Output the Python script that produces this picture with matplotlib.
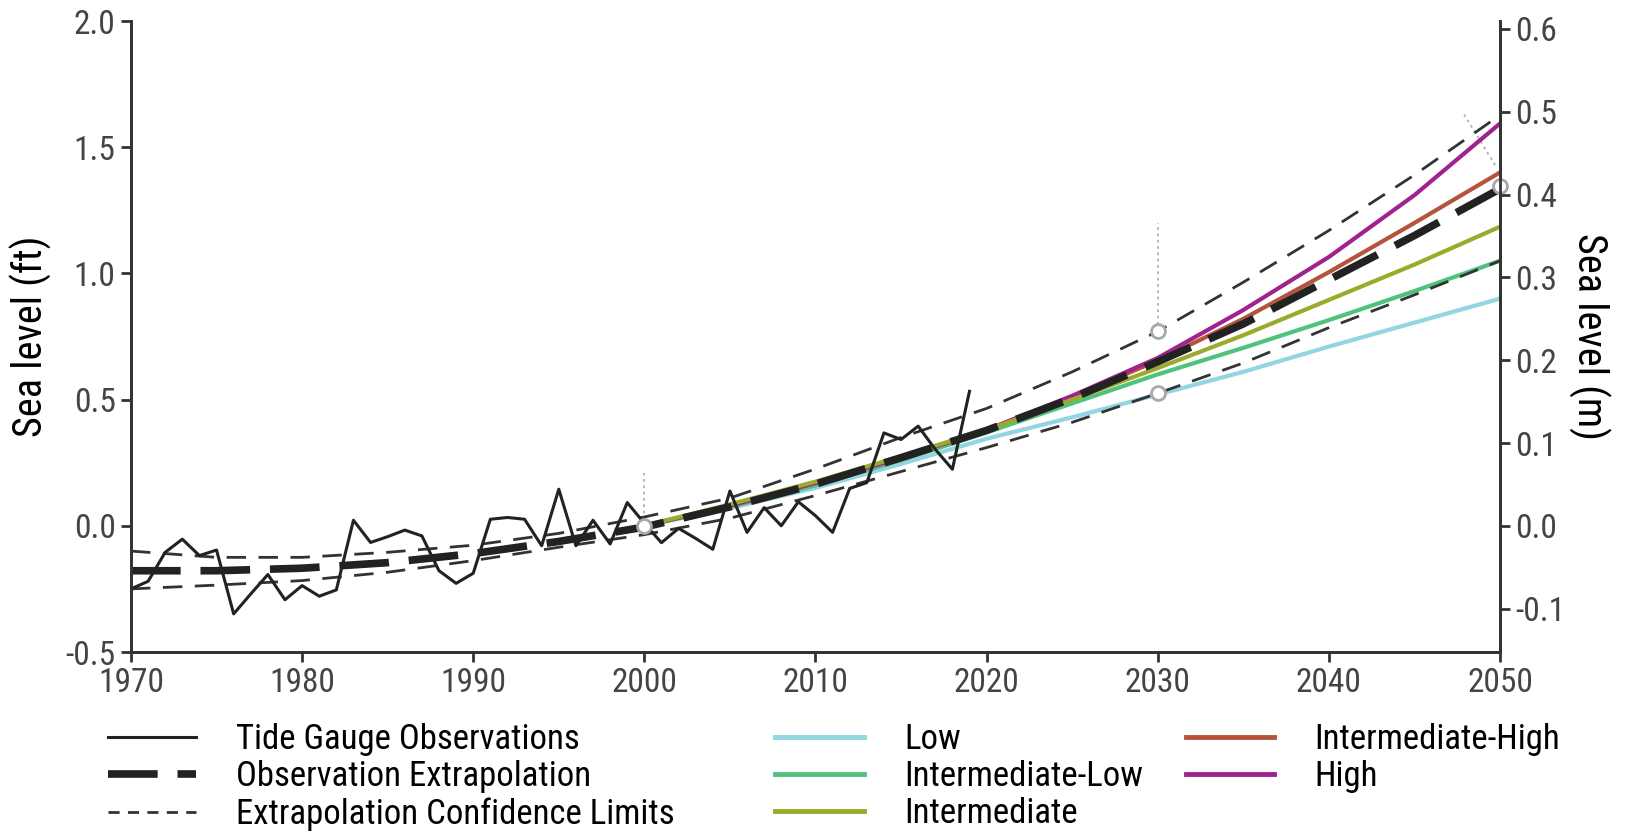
import matplotlib
matplotlib.use("Agg")
import matplotlib.pyplot as plt
from matplotlib.lines import Line2D

plt.rcParams['font.family'] = ['Roboto Condensed', 'Roboto', 'DejaVu Sans']

# Tide gauge observations (ft), annual
obs_years = list(range(1970, 2020))
obs_vals = [-0.25, -0.22, -0.105, -0.053, -0.118, -0.096, -0.349, -0.27, -0.193, -0.293,
            -0.237, -0.279, -0.254, 0.022, -0.066, -0.043, -0.017, -0.04, -0.178, -0.228,
            -0.188, 0.026, 0.033, 0.026, -0.079, 0.145, -0.079, 0.022, -0.072, 0.092,
            0.01, -0.067, -0.01, -0.05, -0.093, 0.138, -0.026, 0.072, 0.0, 0.095,
            0.04, -0.026, 0.148, 0.171, 0.368, 0.342, 0.395, 0.303, 0.224, 0.533]

# Extrapolation and its confidence limits (ft), every 5 years
ext_years = [1970, 1975, 1980, 1985, 1990, 1995, 2000, 2005, 2010, 2015, 2020, 2025, 2030, 2035, 2040, 2045, 2050]
ext_vals = [-0.178, -0.178, -0.168, -0.146, -0.11, -0.062, -0.005, 0.075, 0.165, 0.27, 0.378, 0.505, 0.65, 0.8, 0.975, 1.15, 1.335]
ci_upper = [-0.10, -0.125, -0.125, -0.105, -0.077, -0.03, 0.035, 0.11, 0.225, 0.35, 0.465, 0.61, 0.77, 0.965, 1.17, 1.39, 1.627]
ci_lower = [-0.25, -0.235, -0.217, -0.184, -0.138, -0.085, -0.035, 0.03, 0.12, 0.215, 0.31, 0.41, 0.525, 0.645, 0.785, 0.915, 1.05]

# Scenario projections (ft)
scen_years = [2000, 2005, 2010, 2015, 2020, 2025, 2030, 2035, 2040, 2045, 2050]
scen_low = [0.0, 0.07, 0.15, 0.245, 0.345, 0.43, 0.52, 0.61, 0.71, 0.805, 0.90]
scen_int_low = [0.0, 0.075, 0.16, 0.26, 0.37, 0.485, 0.60, 0.705, 0.815, 0.93, 1.05]
scen_int = [0.0, 0.085, 0.175, 0.275, 0.38, 0.50, 0.625, 0.755, 0.895, 1.035, 1.185]
scen_int_high = [0.0, 0.08, 0.17, 0.27, 0.38, 0.51, 0.655, 0.82, 1.005, 1.2, 1.40]
scen_high = [0.0, 0.08, 0.17, 0.27, 0.38, 0.515, 0.665, 0.855, 1.065, 1.31, 1.594]

scen_names = ["Low", "Intermediate-Low", "Intermediate", "Intermediate-High", "High"]
scen_colors = ["#93d5e0", "#4fc37d", "#9caa2c", "#b5533c", "#a0228f"]

# annotation points and leader lines
marker_years = [2000, 2030, 2030, 2050]
marker_vals = [0.0, 0.77, 0.525, 1.345]
leader_lines = [([2000, 2000], [0.0, 0.21]),
                ([2030, 2030], [0.77, 1.2]),
                ([2047.9, 2049.8], [1.63, 1.42])]

FT_TO_M = 0.3048

fig = plt.figure(figsize=(16.29, 8.31), dpi=100)
ax = fig.add_axes([0.0804, 0.2154, 0.8404, 0.7593])

for xs, ys in leader_lines:
    ax.plot(xs, ys, color="#b0b0b0", lw=1.3, ls=(0, (1.5, 2)), zorder=1)

scen_data = [scen_low, scen_int_low, scen_int, scen_int_high, scen_high]
draw_order = [0, 1, 3, 4, 2]
for i in draw_order:
    ax.plot(scen_years, scen_data[i], color=scen_colors[i], lw=3, zorder=2)

ax.plot(ext_years, ci_upper, color="#333333", lw=2, ls=(0, (7, 4.5)), zorder=3)
ax.plot(ext_years, ci_lower, color="#333333", lw=2, ls=(0, (7, 4.5)), zorder=3)
ax.plot(ext_years, ext_vals, color="#222222", lw=5.5, ls=(0, (6.5, 2.6)), zorder=4)
ax.plot(obs_years, obs_vals, color="#222222", lw=2.2, zorder=5)

ax.plot(marker_years, marker_vals, ls="none", marker="o", ms=10, mfc="white",
        mec="#a8a8a8", mew=2, zorder=6, clip_on=False)

ax.set_xlim(1970, 2050)
ax.set_ylim(-0.5, 2.0)
ax.set_xticks(range(1970, 2051, 10))
ax.set_yticks([-0.5, 0.0, 0.5, 1.0, 1.5, 2.0])
ax.set_yticklabels(["-0.5", "0.0", "0.5", "1.0", "1.5", "2.0"])
ax.set_ylabel("Sea level (ft)", fontsize=29, labelpad=10)

ax2 = ax.twinx()
ax2.set_ylim(-0.5 * FT_TO_M, 2.0 * FT_TO_M)
ax2.set_yticks([-0.1, 0.0, 0.1, 0.2, 0.3, 0.4, 0.5, 0.6])
ax2.set_yticklabels(["-0.1", "0.0", "0.1", "0.2", "0.3", "0.4", "0.5", "0.6"])
ax2.set_ylabel("Sea level (m)", fontsize=29, rotation=270, labelpad=32)

for a in (ax, ax2):
    a.spines["top"].set_visible(False)
    for s in ("left", "right", "bottom"):
        a.spines[s].set_linewidth(2)
        a.spines[s].set_color("#333333")
    a.tick_params(axis="both", which="major", labelsize=24, labelcolor="#444444",
                  color="#333333", width=2, length=7, direction="out", pad=4)

# legend, three columns placed by hand
col1 = [Line2D([], [], color="#222222", lw=2.2),
        Line2D([], [], color="#222222", lw=5.5, ls=(0, (6.5, 2.6))),
        Line2D([], [], color="#333333", lw=2, ls=(0, (4, 3)))]
col1_labels = ["Tide Gauge Observations", "Observation Extrapolation", "Extrapolation Confidence Limits"]
col2 = [Line2D([], [], color=scen_colors[i], lw=3.5) for i in range(3)]
col3 = [Line2D([], [], color=scen_colors[i], lw=3.5) for i in range(3, 5)]

leg_kw = dict(loc="upper left", frameon=False, fontsize=25, handlelength=2.55,
              handletextpad=1.15, labelspacing=0.12, borderpad=0, borderaxespad=0)
fig.legend(col1, col1_labels, bbox_to_anchor=(0.066, 0.130), **leg_kw)
fig.legend(col2, scen_names[:3], bbox_to_anchor=(0.476, 0.130), **leg_kw)
fig.legend(col3, scen_names[3:], bbox_to_anchor=(0.728, 0.130), **leg_kw)

fig.savefig("out.png", dpi=100)
